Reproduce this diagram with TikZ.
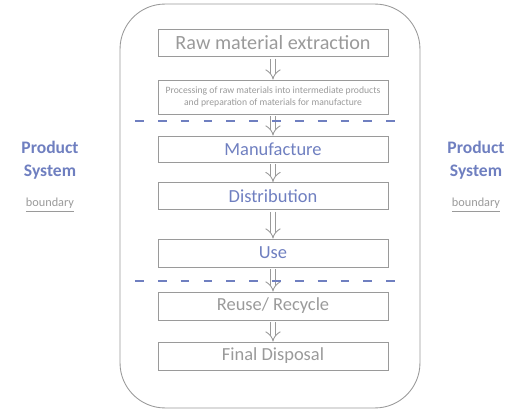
\documentclass[tikz,border=0pt]{standalone}
\usepackage{fontspec}
\setmainfont{Carlito}
\usepackage{tikz}
\usetikzlibrary{positioning,
                calc,
                arrows.meta}
\definecolor{stagegray}{HTML}{9A9A9A}
\definecolor{gateblue}{HTML}{6F7FC0}

\begin{document}
\begin{tikzpicture}[x=0.02cm,y=-0.02cm]

\tikzset{
stagebox/.style={
draw=stagegray,
line width=0.5pt,
minimum width=4.6cm,
minimum height=0.54cm,
font=\fontsize{10.5}{12}\selectfont,
text=stagegray
},
gatebox/.style={
stagebox,
text=gateblue
},
flowarrow/.style={
draw=stagegray,
line width=0.5pt,
double,
double distance=2.6pt,
-{Implies[length=4pt]},
shorten <=1pt
},
sidelabel/.style={
align=center,
text=gateblue,
font=\fontsize{10}{13}\selectfont\bfseries
},
gateline/.style={
draw=gateblue,
dash pattern=on 5pt off 8pt,
line width=0.6pt
}
}

\useasboundingbox (0,0) rectangle (512,412);

%--------------------------------------------------
% SYSTEM BOUNDARY
%--------------------------------------------------

\node[draw=stagegray,rounded corners=0.9cm,line width=0.5pt,
minimum width=6cm,minimum height=8.08cm] (system) at (270,206) {};

%--------------------------------------------------
% STAGES
%--------------------------------------------------

\node[stagebox,minimum height=0.54cm,font=\fontsize{11.5}{13}\selectfont] (raw) at (273,43)
{Raw material extraction};

\node[stagebox,minimum height=0.68cm,align=center,font=\fontsize{5.5}{7}\selectfont] (process) at (273,97)
{Processing of raw materials into intermediate products\\ and preparation of materials for manufacture};

\node[gatebox,minimum height=0.52cm] (manuf) at (273,149) {Manufacture};

\node[gatebox] (distrib) at (273,196) {Distribution};

\node[gatebox,minimum height=0.56cm] (use) at (273,253) {Use};

\node[stagebox,minimum height=0.56cm] (reuse) at (273,306) {Reuse/ Recycle};

\node[stagebox,minimum height=0.56cm] (disposal) at (273,356) {Final Disposal};

%--------------------------------------------------
% FLOWS
%--------------------------------------------------

\draw[flowarrow] (raw) -- (process);
\draw[flowarrow] (process) -- (manuf);
\draw[flowarrow] (manuf) -- (distrib);
\draw[flowarrow] (distrib) -- (use);
\draw[flowarrow] (use) -- (reuse);
\draw[flowarrow] (reuse) -- (disposal);

%--------------------------------------------------
% GATES
%--------------------------------------------------

\coordinate (gatetopW) at (135,121);
\coordinate (gatetopE) at (408,121);
\coordinate (gatebotW) at (135,281);
\coordinate (gatebotE) at (408,281);

\draw[gateline] (gatetopW) -- (gatetopE);
\draw[gateline] (gatebotW) -- (gatebotE);

%--------------------------------------------------
% SIDE LABELS
%--------------------------------------------------

\node[sidelabel] (leftlabel) at (50,160) {Product\\System};
\node[font=\scriptsize,text=stagegray] (leftnote) at (50,205) {\underline{boundary}};

\node[sidelabel] (rightlabel) at (476,160) {Product\\System};
\node[font=\scriptsize,text=stagegray] (rightnote) at (476,205) {\underline{boundary}};

\end{tikzpicture}
\end{document}
